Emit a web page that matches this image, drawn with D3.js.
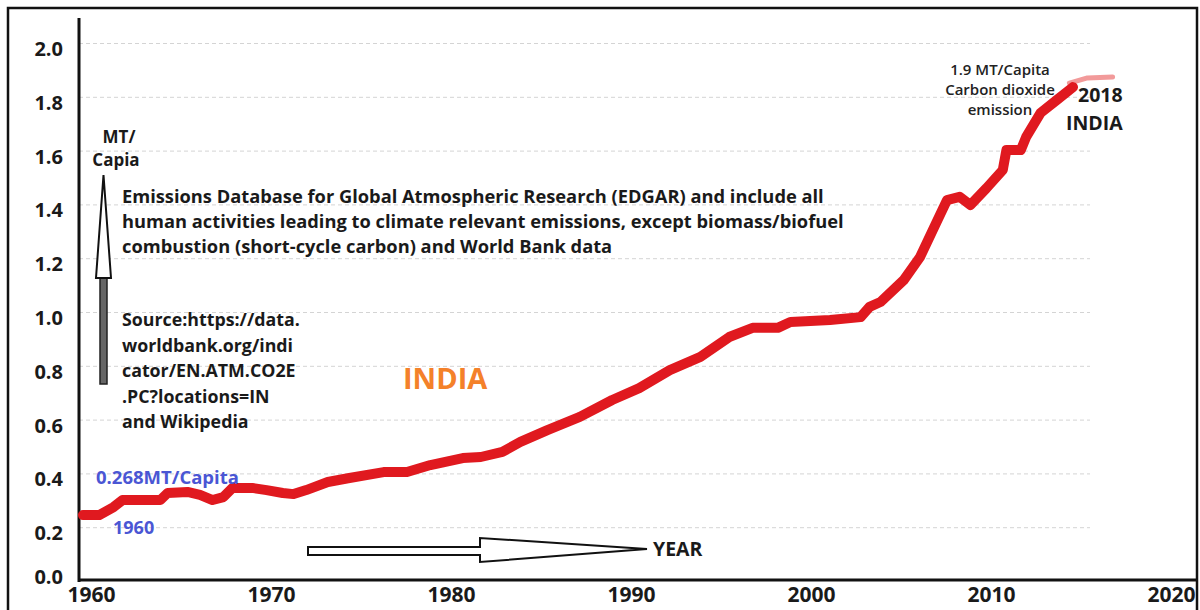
<!DOCTYPE html>
<html>
<head>
<meta charset="utf-8">
<script src="https://cdn.jsdelivr.net/npm/d3@7"></script>
<style>
  body { margin: 0; background: #fff; }
  svg { display: block; font-family: "Open Sans", sans-serif; }
  .grid line { stroke: #d4d4d4; stroke-dasharray: 4,3; }
  .grid path { display: none; }
</style>
</head>
<body>
<svg id="chart" width="1200" height="610"></svg>
<script>
// India CO2 emissions, MT per capita
var years = [1960, 1960.9, 1961.7, 1962.2, 1964.3, 1964.7, 1965.8, 1966.5, 1967.2, 1967.8,
             1968.3, 1969.4, 1970.2, 1971.1, 1971.7, 1972.4, 1973.6, 1974.8, 1976.7, 1978.0,
             1979.3, 1981.1, 1982.1, 1983.3, 1984.3, 1985.8, 1987.6, 1989.4, 1990.9, 1992.6,
             1994.3, 1995.9, 1997.2, 1998.6, 1999.3, 2001.5, 2003.2, 2003.7, 2004.3, 2005.6,
             2006.5, 2007.4, 2008.0, 2008.7, 2009.3, 2010.2, 2011.1, 2011.3, 2012.1, 2012.4,
             2013.2, 2014.1, 2015.0];
var emissions = [0.245, 0.245, 0.275, 0.301, 0.301, 0.327, 0.331, 0.320, 0.301, 0.312,
                 0.346, 0.346, 0.338, 0.327, 0.323, 0.338, 0.368, 0.383, 0.405, 0.405,
                 0.431, 0.457, 0.461, 0.480, 0.517, 0.561, 0.610, 0.673, 0.717, 0.784,
                 0.833, 0.907, 0.941, 0.941, 0.963, 0.970, 0.981, 1.019, 1.037, 1.119,
                 1.204, 1.331, 1.416, 1.428, 1.398, 1.461, 1.528, 1.602, 1.602, 1.651,
                 1.740, 1.788, 1.836];
// faint pink tail up to 2018
var tailYears = [2014.8, 2015.8, 2017.2];
var tailEmissions = [1.851, 1.870, 1.874];

var yTicks = [0, 0.2, 0.4, 0.6, 0.8, 1.0, 1.2, 1.4, 1.6, 1.8, 2.0];
var xTicks = [1960, 1970, 1980, 1990, 2000, 2010, 2020];

var sourceLines = ["Source:https://data.", "worldbank.org/indi", "cator/EN.ATM.CO2E",
                   ".PC?locations=IN", "and Wikipedia"];
var edgarLines = ["Emissions Database for Global Atmospheric Research (EDGAR) and include all",
                  "human activities leading to climate relevant emissions, except biomass/biofuel",
                  "combustion (short-cycle carbon) and World Bank data"];
var noteLines = ["1.9 MT/Capita", "Carbon dioxide", "emission"];

var svg = d3.select("#chart");

var x = d3.scaleLinear().domain([1960, 2020]).range([83, 1163]);
var y = d3.scaleLinear().domain([0, 2]).range([581, 43]);
var axisX = 79;

// outer frame
svg.append("rect")
    .attr("x", 8).attr("y", 8)
    .attr("width", 1189).attr("height", 612)
    .attr("fill", "none").attr("stroke", "#111").attr("stroke-width", 2.5);

// grid
svg.append("g")
    .attr("class", "grid")
    .attr("transform", "translate(" + axisX + ",0)")
    .call(d3.axisLeft(y).tickValues(yTicks.slice(1)).tickSize(-(1090 - axisX)).tickFormat(""));

// y tick labels
var gy = svg.append("g")
    .attr("transform", "translate(" + axisX + ",0)")
    .call(d3.axisLeft(y).tickValues(yTicks).tickSize(0).tickPadding(16).tickFormat(d3.format(".1f")));
gy.select(".domain").remove();
gy.selectAll("text")
    .attr("dy", function(d) { return d === 0 ? "0.1em" : "0.62em"; })
    .style("font-family", "'Open Sans', sans-serif")
    .style("font-size", "20px").style("font-weight", "700").attr("fill", "#1a1a1a");

// x tick labels
var gx = svg.append("g")
    .attr("transform", "translate(0," + y(0) + ")")
    .call(d3.axisBottom(x).tickValues(xTicks).tickSize(0).tickPadding(6).tickFormat(d3.format("d")));
gx.select(".domain").remove();
gx.selectAll("text")
    .attr("dx", 8)
    .style("font-family", "'Open Sans', sans-serif")
    .style("font-size", "21px").style("font-weight", "700").attr("fill", "#1a1a1a");

// axis lines
svg.append("line")
    .attr("x1", axisX).attr("x2", axisX)
    .attr("y1", 18).attr("y2", y(0) + 1)
    .attr("stroke", "#111").attr("stroke-width", 3);
svg.append("line")
    .attr("x1", axisX - 1).attr("x2", 1197)
    .attr("y1", y(0) - 1).attr("y2", y(0) - 1)
    .attr("stroke", "#111").attr("stroke-width", 3);

// series
var line = d3.line()
    .x(function(d) { return x(d[0]); })
    .y(function(d) { return y(d[1]); });

svg.append("path")
    .datum(d3.zip(tailYears, tailEmissions))
    .attr("d", line)
    .attr("fill", "none")
    .attr("stroke", "#f29a9a").attr("stroke-width", 5)
    .attr("stroke-linecap", "round").attr("stroke-linejoin", "round");

svg.append("path")
    .datum(d3.zip(years, emissions))
    .attr("d", line)
    .attr("fill", "none")
    .attr("stroke", "#e0191f").attr("stroke-width", 10)
    .attr("stroke-linecap", "round").attr("stroke-linejoin", "round");

// y label + up arrow
svg.append("text").attr("x", 119).attr("y", 143).attr("text-anchor", "middle")
    .attr("font-size", 17).attr("font-weight", 700).attr("fill", "#1a1a1a").text("MT/");
svg.append("text").attr("x", 116).attr("y", 166).attr("text-anchor", "middle")
    .attr("font-size", 17).attr("font-weight", 700).attr("fill", "#1a1a1a").text("Capia");

svg.append("rect")
    .attr("x", 100).attr("y", 277).attr("width", 7).attr("height", 107)
    .attr("fill", "#666").attr("stroke", "#222").attr("stroke-width", 1.5);
svg.append("path")
    .attr("d", "M103.5,175 L96,278 L111,278 Z")
    .attr("fill", "#fff").attr("stroke", "#111").attr("stroke-width", 2)
    .attr("stroke-linejoin", "miter");

// year arrow
svg.append("path")
    .attr("d", "M308,547 L480,547 L480,538 L647,549 L480,562 L480,555 L308,555 Z")
    .attr("fill", "#fff").attr("stroke", "#111").attr("stroke-width", 2);
svg.append("text").attr("x", 653).attr("y", 556)
    .attr("font-size", 19.5).attr("font-weight", 700).attr("fill", "#1a1a1a").text("YEAR");

// EDGAR note
svg.append("g").selectAll("text")
    .data(edgarLines).enter().append("text")
    .attr("x", 122).attr("y", function(d, i) { return 203 + i * 25; })
    .attr("font-size", 18.3).attr("font-weight", 700).attr("fill", "#1a1a1a")
    .text(function(d) { return d; });

// source note
svg.append("g").selectAll("text")
    .data(sourceLines).enter().append("text")
    .attr("x", 122).attr("y", function(d, i) { return 326 + i * 25.5; })
    .attr("font-size", 17.8).attr("font-weight", 700).attr("fill", "#1a1a1a")
    .text(function(d) { return d; });

// INDIA label
svg.append("text").attr("x", 403).attr("y", 389)
    .attr("font-size", 29).attr("font-weight", 700).attr("fill", "#f4812a").text("INDIA");

// 1960 annotation
svg.append("text").attr("x", 96).attr("y", 484)
    .attr("font-size", 18.5).attr("font-weight", 700).attr("fill", "#4a56d4").text("0.268MT/Capita");
svg.append("text").attr("x", 113).attr("y", 534)
    .attr("font-size", 18).attr("font-weight", 700).attr("fill", "#4a56d4").text("1960");

// 2018 annotation
svg.append("g").selectAll("text")
    .data(noteLines).enter().append("text")
    .attr("x", 1000).attr("y", function(d, i) { return 75 + i * 20; })
    .attr("text-anchor", "middle")
    .attr("font-size", 15).attr("font-weight", 600).attr("fill", "#222")
    .text(function(d) { return d; });
svg.append("text").attr("x", 1078).attr("y", 102)
    .attr("font-size", 19.5).attr("font-weight", 700).attr("fill", "#1a1a1a").text("2018");
svg.append("text").attr("x", 1066).attr("y", 130)
    .attr("font-size", 19.5).attr("font-weight", 700).attr("fill", "#1a1a1a").text("INDIA");
</script>
</body>
</html>
